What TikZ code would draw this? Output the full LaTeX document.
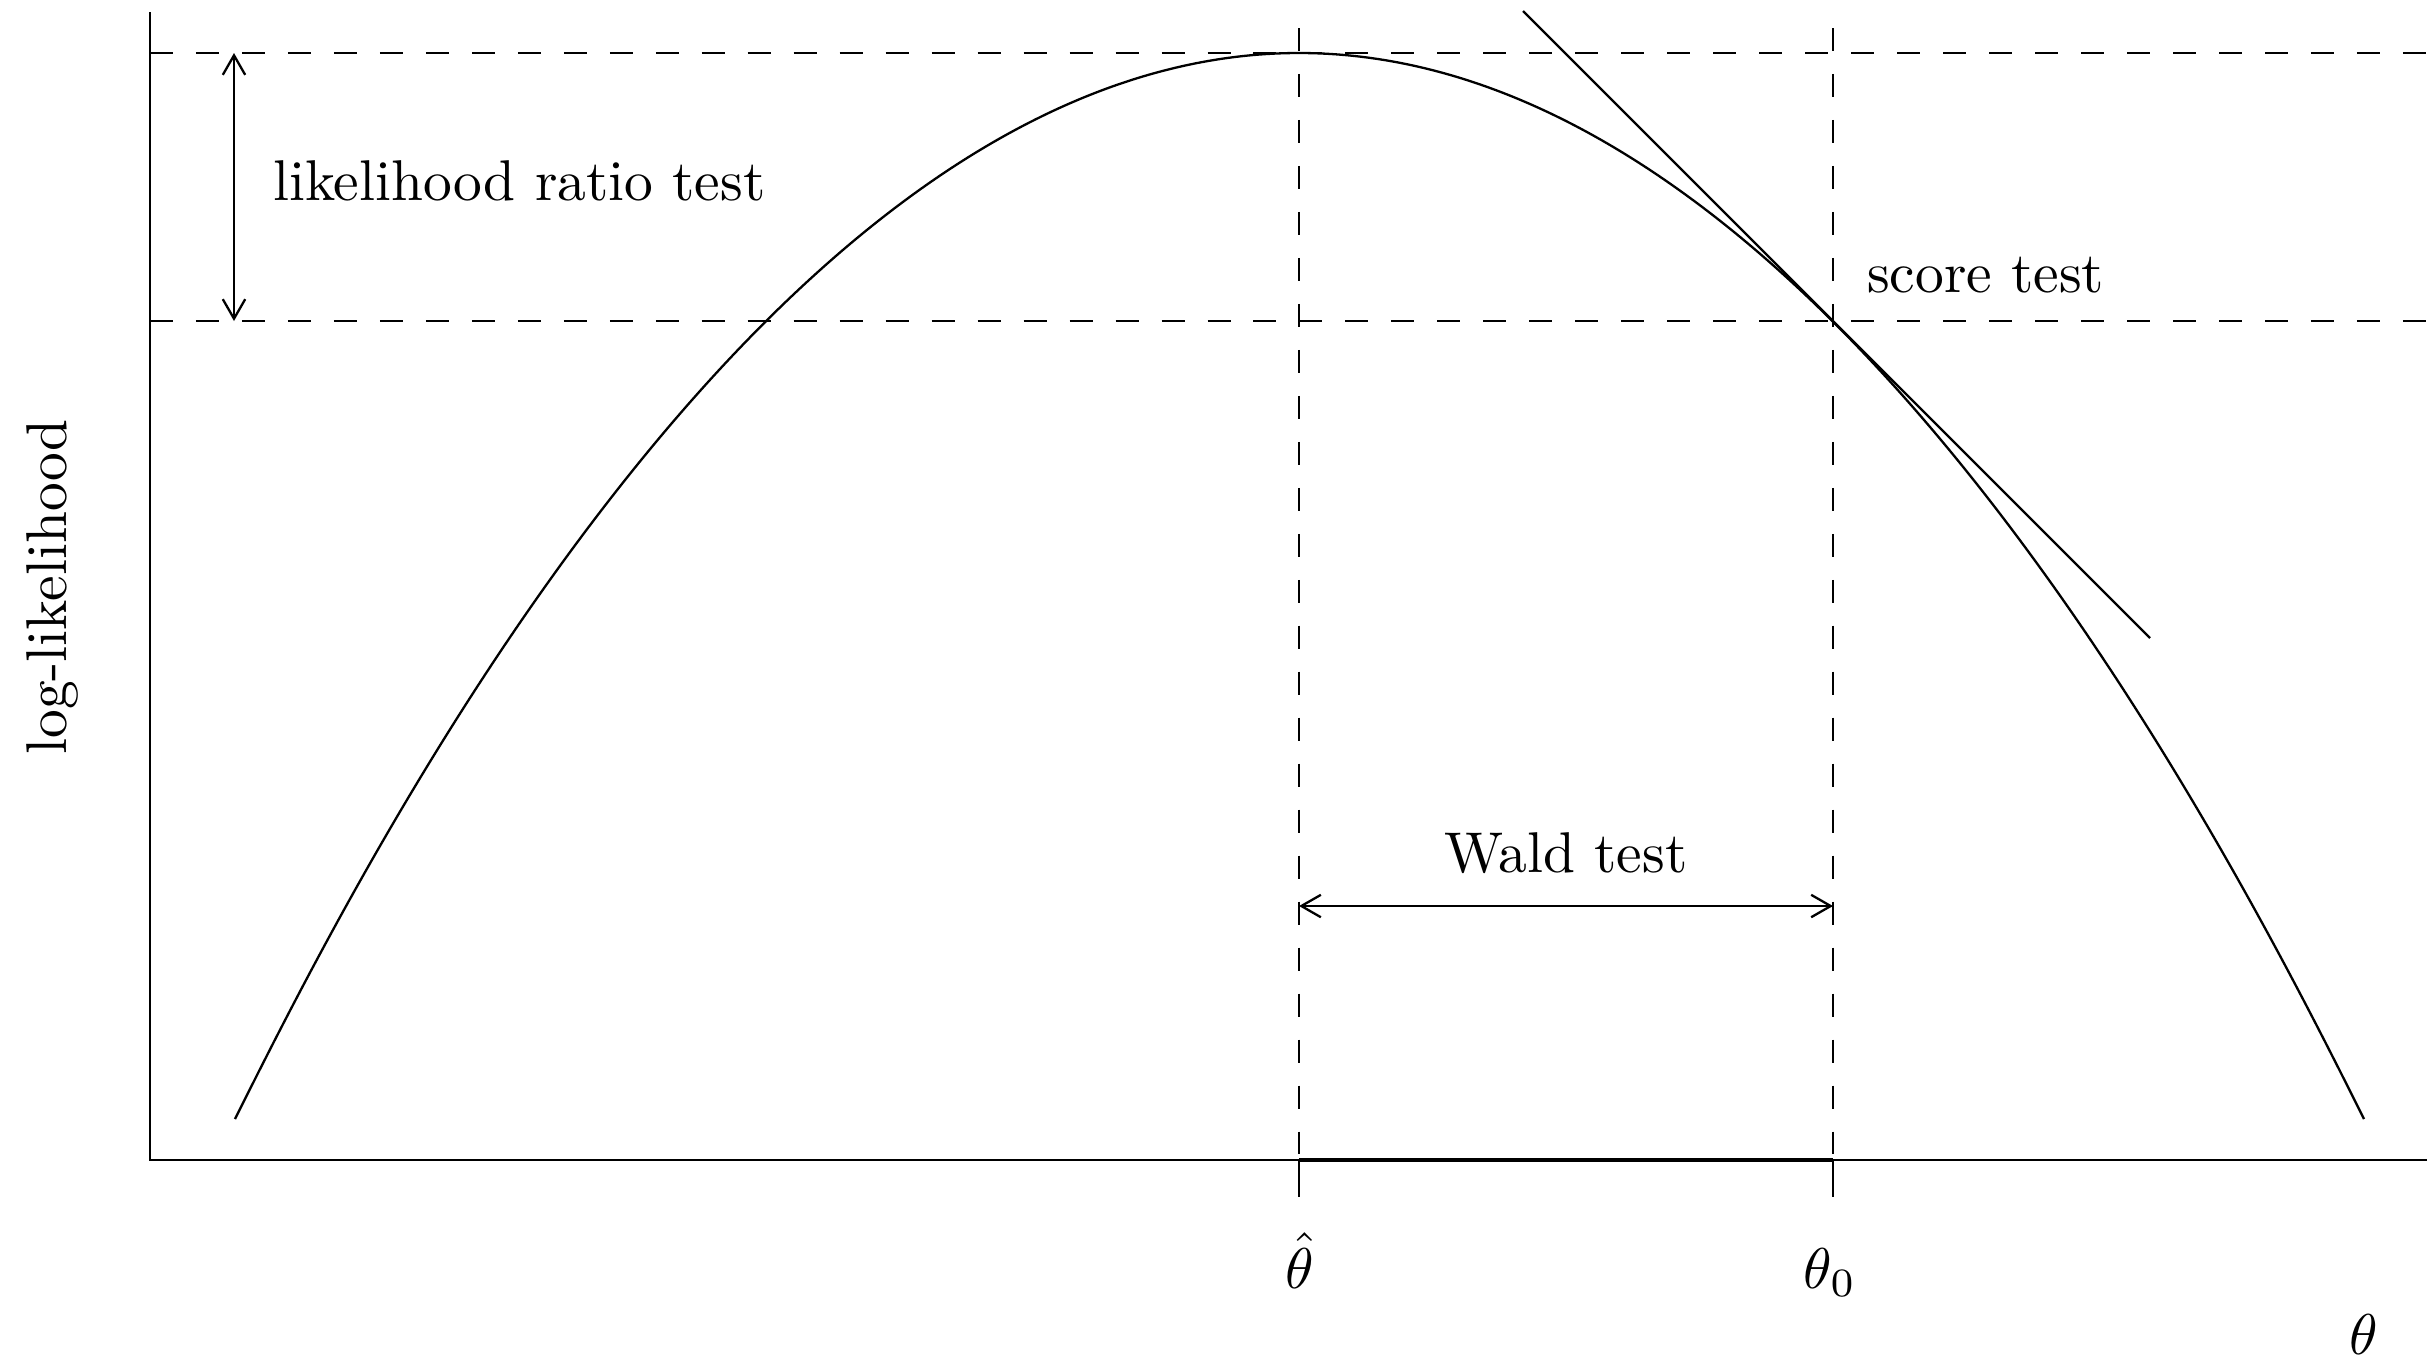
\documentclass[tikz,border=0pt]{standalone}
\usetikzlibrary{arrows.meta}
\begin{document}
\begin{tikzpicture}[x=0.174pt,y=-0.174pt,line width=0.4pt,
  guide/.style={dash pattern=on 4pt off 4pt},
  lbl/.style={inner sep=0pt},
  dimarrow/.style={{Straight Barb[length=3.4pt,width=3.9pt]}-{Straight Barb[length=3.4pt,width=3.9pt]}}]
\useasboundingbox (0,0) rectangle (2427,1359);
% key points
\coordinate (O) at (150,1160);
\coordinate (ytop) at (150,12);
\coordinate (xend) at (2427,1160);
\coordinate (peak) at (1299,53);
\coordinate (T) at (1833,321);
\coordinate (cL) at (235,1119);
\coordinate (cR) at (2364,1119);
\coordinate (tA) at (1523,11);
\coordinate (tB) at (2150,638);
\coordinate (h1a) at (150,53);
\coordinate (h1b) at (2427,53);
\coordinate (h2a) at (150,321);
\coordinate (h2b) at (2427,321);
\coordinate (v1a) at (1299,28);
\coordinate (v1b) at (1299,1160);
\coordinate (v1c) at (1299,1197);
\coordinate (v2a) at (1833,28);
\coordinate (v2b) at (1833,1160);
\coordinate (v2c) at (1833,1197);
\coordinate (lrA) at (234,53);
\coordinate (lrB) at (234,321);
\coordinate (wA) at (1299,906);
\coordinate (wB) at (1833,906);
% axes
\draw (ytop) -- (O) -- (xend);
\draw[line width=0.7pt] (v1b) -- (v2b);
% guides
\draw[guide] (h1a) -- (h1b);
\draw[guide] (h2a) -- (h2b);
\draw[guide] (v1a) -- (v1b);
\draw[guide] (v2a) -- (v2b);
\draw (v1b) -- (v1c);
\draw (v2b) -- (v2c);
% curve and tangent
\draw (cL) parabola bend (peak) (cR);
\draw (tA) -- (tB);
% arrows
\draw[dimarrow] (lrA) -- (lrB);
\draw[dimarrow] (wA) -- (wB);
% labels
\node[lbl,anchor=base west] (lr) at (272,200) {likelihood ratio test};
\node[lbl,anchor=base west] (sc) at (1866,292) {score test};
\node[lbl,anchor=base] (wald) at (1566,872) {Wald test};
\node[lbl,anchor=base] (th) at (1300,1288) {$\hat\theta$};
\node[lbl,anchor=base] (th0) at (1830,1288) {$\theta_0$};
\node[lbl,anchor=base] (thx) at (2364,1354) {$\theta$};
\node[lbl,rotate=90] (ll) at (52,587) {log-likelihood};
\end{tikzpicture}
\end{document}
